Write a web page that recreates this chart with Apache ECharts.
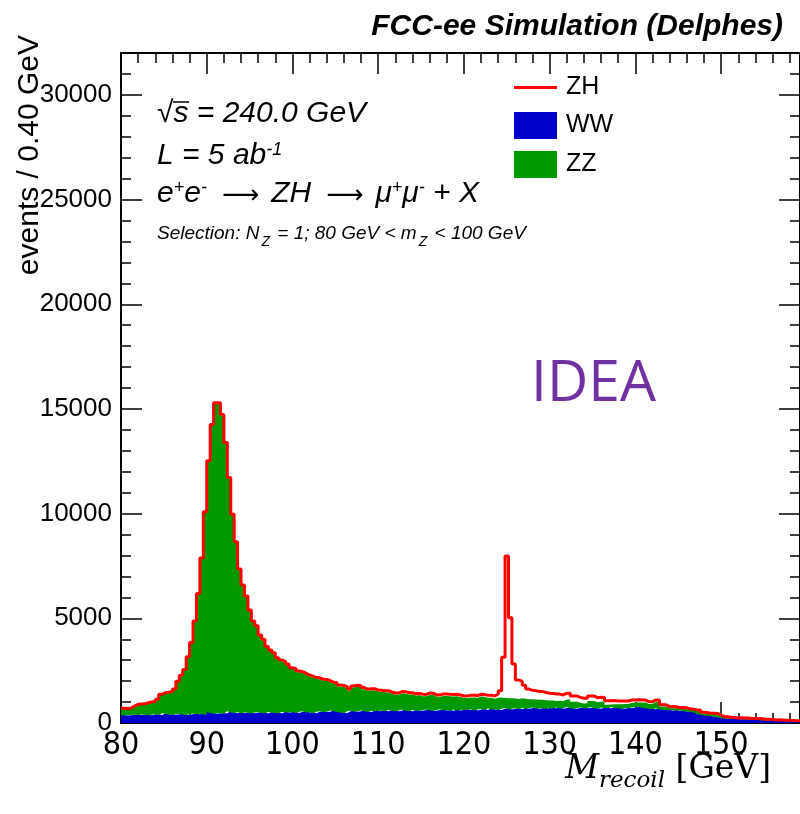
<!DOCTYPE html>
<html>
<head>
<meta charset="utf-8">
<script src="https://cdn.jsdelivr.net/npm/echarts/dist/echarts.min.js"></script>
<style>
html,body{margin:0;padding:0;background:#ffffff;}
#chart{width:800px;height:814px;}
</style>
</head>
<body>
<div id="chart"></div>
<script>
// ---- data (events / 0.40 GeV, bins start at 80 GeV) ----
const binLow = 80;
const binWidth = 0.4;

const ww = [380,360,370,400,390,380,410,390,370,400,420,380,460,430,400,390,420,440,400,380,430,450,420,440,410,
520,480,440,460,450,470,560,500,480,520,460,500,490,470,500,520,480,460,520,500,480,470,540,500,510,
520,480,540,560,500,520,470,540,560,520,540,600,560,520,500,480,560,580,540,560,600,560,520,580,560,
580,600,560,620,580,560,600,640,580,560,620,600,580,620,640,600,580,620,660,600,620,580,640,600,620,
640,620,660,600,640,680,620,700,640,660,620,680,720,640,680,700,660,720,680,700,740,680,700,720,680,
720,700,740,680,720,760,700,680,720,740,700,720,760,700,680,740,720,700,760,720,700,680,720,700,740,760,780,720,700,680,660,700,640,620,620,600,620,580,
600,560,540,520,500,420,400,360,340,320,300,260,
230,220,200,195,190,185,180,175,165,160,150,145,125,120,115,100,100,95,90,90,85,75,70];

const zz = [290,298,315,376,473,490,472,544,600,592,674,952,955,1002,1060,1188,1530,1798,2116,2748,3376,4375,5726,7394,9635,
11964,13735,14813,14782,14244,12882,11120,9422,8130,6778,6080,5518,4856,4348,4096,3625,3466,3134,2915,2802,2584,2482,2330,2262,2070,
2030,1938,1850,1746,1728,1655,1636,1554,1465,1492,1414,1282,1300,1222,1220,1183,990,1118,1186,1158,1016,974,1045,982,939,
902,865,902,778,770,793,816,773,785,801,694,720,702,659,700,737,670,633,635,685,658,689,637,640,570,
553,595,561,607,620,573,585,505,520,545,595,510,460,540,490,450,520,440,460,430,380,430,410,370,390,
350,355,320,360,400,365,310,335,245,190,245,335,295,290,335,280,155,180,140,170,195,230,190,265,225,220,200,260,210,240,340,300,145,165,80,110,85,85,
75,110,80,100,80,157,75,113,90,117,129,96,
48,54,50,50,31,42,42,43,29,39,40,50,36,46,42,32,38,33,28,34,29,25,25];

const zh = [30,32,30,34,32,35,33,36,35,38,36,38,40,38,40,42,40,42,44,42,44,45,44,46,45,46,45,47,48,46,48,50,48,50,52,50,52,54,52,54,55,54,56,55,58,56,58,60,58,60,
60,62,60,64,62,65,64,66,65,68,66,68,70,68,70,72,70,72,74,72,74,76,75,78,76,78,80,78,82,80,82,84,82,85,84,86,85,88,86,90,88,90,92,90,95,92,96,98,100,100,
102,105,104,108,110,112,115,120,130,180,330,
1950,6800,3850,1650,900,820,640,480,430,420,400,390,370,350,
340,330,320,300,300,290,280,270,260,250,240,235,230,220,210,200,190,180,170,160,150,145,140,135,130,125,120,115,110,105,100,95,90,85,80,75,70,65,
60,55,50,45,40,38,35,32,30,28,26,24,
22,21,20,20,19,18,18,17,16,16,15,15,14,14,13,13,12,12,12,11,11,10,10];

const seriesNames = ['ZH', 'WW', 'ZZ'];
const xTickLabels = [80, 90, 100, 110, 120, 130, 140, 150];
const yTickLabels = [0, 5000, 10000, 15000, 20000, 25000, 30000];
const yMax = 32000;

// ---- bin edges (category positions) and step data ----
const round1 = v => Math.round(v * 10) / 10;
const xMax = round1(binLow + ww.length * binWidth);
const binEdges = [];
for (let i = 0; i <= ww.length; i++) binEdges.push(String(round1(binLow + i * binWidth)));
function stepData(vals) {
  const d = vals.slice();
  d.push(vals[vals.length - 1]);
  return d;
}

const FONT = '"Liberation Sans", Arial, Helvetica, sans-serif';
const chart = echarts.init(document.getElementById('chart'), null, {renderer: 'canvas'});

function xAx(pos, interval, len, labels, line) {
  return {
    type: 'value', position: pos, min: binLow, max: xMax, interval: interval,
    gridIndex: 0,
    axisLine: {show: line, onZero: false, lineStyle: {color: '#000', width: 2}},
    axisTick: {show: true, inside: true, length: len, lineStyle: {color: '#000', width: 1.5}},
    axisLabel: labels ? {
      show: true, color: '#000', fontSize: 32, fontFamily: '"Liberation Sans Narrow", "DejaVu Sans Condensed", ' + FONT, margin: 7,
      hideOverlap: false, showMinLabel: true, showMaxLabel: true,
      formatter: v => (xTickLabels.indexOf(round1(v)) >= 0 ? String(round1(v)) : '')
    } : {show: false},
    splitLine: {show: false}, minorTick: {show: false}, minorSplitLine: {show: false}
  };
}
function yAx(pos, interval, len, labels, line) {
  return {
    type: 'value', position: pos, min: 0, max: yMax, interval: interval,
    gridIndex: 0,
    axisLine: {show: line, onZero: false, lineStyle: {color: '#000', width: 2}},
    axisTick: {show: true, inside: true, length: len, lineStyle: {color: '#000', width: 1.5}},
    axisLabel: labels ? {
      show: true, color: '#000', fontSize: 26, fontFamily: FONT, margin: 9,
      hideOverlap: false, showMinLabel: true, showMaxLabel: true,
      formatter: v => (yTickLabels.indexOf(v) >= 0 ? String(v) : '')
    } : {show: false},
    splitLine: {show: false}, minorTick: {show: false}, minorSplitLine: {show: false}
  };
}

const supRich = {
  b: {fontFamily: FONT, fontStyle: 'italic', fontSize: 30, lineHeight: 30, verticalAlign: 'bottom', fill: '#000'},
  s: {fontFamily: FONT, fontStyle: 'italic', fontSize: 18, lineHeight: 18, verticalAlign: 'top', fill: '#000'},
  a: {fontFamily: '"DejaVu Sans", sans-serif', fontSize: 26, lineHeight: 30, verticalAlign: 'bottom', fill: '#000', padding: [0, 12, 0, 15]}
};

const option = {
  animation: false,
  backgroundColor: '#ffffff',
  grid: {left: 121, right: 0, top: 53, bottom: 91, containLabel: false, outerBoundsMode: 'none', show: false},
  xAxis: [
    xAx('bottom', 10, 21, true, true),
    xAx('bottom', 2, 10, false, false),
    xAx('top', 10, 21, false, true),
    xAx('top', 2, 10, false, false),
    {
      type: 'category', position: 'bottom', gridIndex: 0, data: binEdges, boundaryGap: false, show: false,
      axisLine: {show: false, onZero: false}, axisTick: {show: false}, axisLabel: {show: false}, splitLine: {show: false}
    }
  ],
  yAxis: [
    yAx('left', 5000, 21, true, true),
    yAx('left', 1000, 10, false, false),
    yAx('right', 5000, 21, false, true),
    yAx('right', 1000, 10, false, false)
  ],
  legend: {
    show: true, orient: 'vertical', left: 514, top: 75, padding: 0,
    itemWidth: 43, itemHeight: 27, itemGap: 12, selectedMode: false,
    symbolKeepAspect: true,
    textStyle: {color: '#000', fontSize: 25, fontFamily: FONT, padding: [0, 0, 0, 4]},
    data: [
      {name: 'ZH', icon: 'path://M0,0L43,0L43,3L0,3Z', itemStyle: {color: '#ff0000', borderWidth: 0}},
      {name: 'WW', icon: 'rect', itemStyle: {color: '#0000cc', borderWidth: 0}},
      {name: 'ZZ', icon: 'rect', itemStyle: {color: '#009900', borderWidth: 0}}
    ]
  },
  series: [
    {
      name: 'WW', type: 'line', stack: 'total', step: 'end', xAxisIndex: 4, yAxisIndex: 0,
      data: stepData(ww), symbol: 'none', showSymbol: false, color: '#0000cc',
      lineStyle: {width: 0, color: '#0000cc'}, areaStyle: {color: '#0000cc', opacity: 1},
      silent: true, z: 2
    },
    {
      name: 'ZZ', type: 'line', stack: 'total', step: 'end', xAxisIndex: 4, yAxisIndex: 0,
      data: stepData(zz), symbol: 'none', showSymbol: false, color: '#009900',
      lineStyle: {width: 0, color: '#009900'}, areaStyle: {color: '#009900', opacity: 1},
      silent: true, z: 2
    },
    {
      name: 'ZH', type: 'line', stack: 'total', step: 'end', xAxisIndex: 4, yAxisIndex: 0,
      data: stepData(zh), symbol: 'none', showSymbol: false, color: '#ff0000',
      lineStyle: {width: 3, color: '#ff0000'},
      silent: true, z: 3
    }
  ],
  graphic: [
    { type: 'text', x: 783, y: 27, style: {
        text: 'FCC-ee Simulation (Delphes)', font: 'italic bold 30px ' + FONT, fill: '#000',
        textAlign: 'right', textVerticalAlign: 'middle', verticalAlign: 'middle'} },
    { type: 'text', x: 30, y: 35, rotation: Math.PI / 2, style: {
        text: 'events / 0.40 GeV', font: '30px ' + FONT, fill: '#000',
        textAlign: 'right', textVerticalAlign: 'middle', verticalAlign: 'middle'} },
    { type: 'text', x: 157, y: 114, style: {
        text: '\u221As = 240.0 GeV', font: 'italic 30px ' + FONT, fill: '#000',
        textAlign: 'left', textVerticalAlign: 'middle', verticalAlign: 'middle'} },
    { type: 'line', shape: {x1: 173, y1: 102, x2: 189, y2: 102}, style: {stroke: '#000', lineWidth: 1.5} },
    { type: 'text', x: 157, y: 141, style: {
        text: '{b|L = 5 ab}{s|-1}', font: 'italic 30px ' + FONT, fill: '#000',
        textAlign: 'left', textVerticalAlign: 'top', verticalAlign: 'top', rich: supRich} },
    { type: 'text', x: 157, y: 179, style: {
        text: '{b|e}{s|+}{b|e}{s|-}{a|\u27F6}{b|ZH}{a|\u27F6}{b|\u03BC}{s|+}{b|\u03BC}{s|-}{b| + X}', font: 'italic 30px ' + FONT, fill: '#000',
        textAlign: 'left', textVerticalAlign: 'top', verticalAlign: 'top', rich: supRich} },
    { type: 'text', x: 157, y: 224, style: {
        text: '{b|Selection: N}{z|Z}{b| = 1; 80 GeV < m}{z|Z}{b| < 100 GeV}', font: 'italic 19px ' + FONT, fill: '#000',
        textAlign: 'left', textVerticalAlign: 'top', verticalAlign: 'top',
        rich: {
          b: {fontFamily: FONT, fontStyle: 'italic', fontSize: 19, lineHeight: 19, verticalAlign: 'top', fill: '#000'},
          z: {fontFamily: FONT, fontStyle: 'italic', fontSize: 14, lineHeight: 14, verticalAlign: 'top', padding: [11, 2, 0, 2], fill: '#000'}
        }} },
    { type: 'text', x: 531, y: 385, style: {
        text: 'IDEA', font: '57px "Open Sans", Lato, sans-serif', fill: '#7030a0',
        textAlign: 'left', textVerticalAlign: 'middle', verticalAlign: 'middle'} },
    { type: 'text', x: 771, y: 773, style: {
        text: '{m|M}{r|recoil}{g| [GeV]}', font: '34px "DejaVu Serif", serif', fill: '#000',
        textAlign: 'right', textVerticalAlign: 'middle', verticalAlign: 'middle',
        rich: {
          m: {fontFamily: '"DejaVu Serif", serif', fontStyle: 'italic', fontSize: 33, lineHeight: 40, verticalAlign: 'top', fill: '#000'},
          r: {fontFamily: '"DejaVu Serif", serif', fontStyle: 'italic', fontSize: 23, lineHeight: 23, verticalAlign: 'bottom', fill: '#000'},
          g: {fontFamily: '"DejaVu Serif", serif', fontSize: 33, lineHeight: 40, verticalAlign: 'top', fill: '#000'}
        }} }
  ]
};
chart.setOption(option);
</script>
</body>
</html>
